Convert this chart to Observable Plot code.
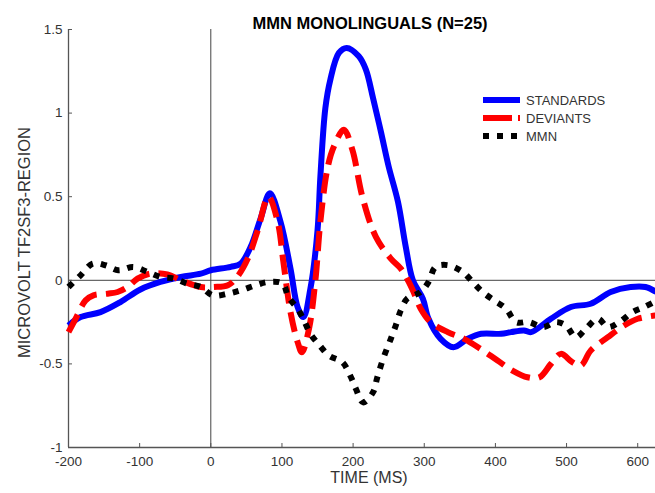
<!DOCTYPE html>
<html>
<head>
<meta charset="utf-8">
<script src="https://cdn.jsdelivr.net/npm/d3@7"></script>
<script src="https://cdn.jsdelivr.net/npm/@observablehq/plot@0.6"></script>
<style>
  html, body { margin: 0; padding: 0; background: white; }
  #wrap { position: relative; width: 655px; height: 493px; }
  #legend { position: absolute; left: 0; top: 0; pointer-events: none; }
</style>
</head>
<body>
<div id="wrap"></div>
<script>
// ---- data ----
const title = "MMN MONOLINGUALS (N=25)";
const xLabel = "TIME (MS)";
const yLabel = "MICROVOLT TF2SF3-REGION";
const seriesNames = ["STANDARDS", "DEVIANTS", "MMN"];
const xTicks = [-200, -100, 0, 100, 200, 300, 400, 500, 600];
const yTicks = [-1, -0.5, 0, 0.5, 1, 1.5];
const xDomain = [-200, 625];
const yDomain = [-1, 1.5];

const stdTime  = [-200,-183,-155,-127,-99,-71,-42,-14,0,28,42,56,70,83,98,112,122,130,140,150,154,161,168,180,191,208,218,228,239,250,263,274,284,298,306,323,341,361,380,408,422,440,450,478,506,534,562,590,611,626];
const stdValue = [-0.27,-0.22,-0.19,-0.13,-0.055,-0.01,0.02,0.04,0.06,0.08,0.1,0.2,0.37,0.52,0.35,0.07,-0.16,-0.22,-0.05,0.3,0.62,1.03,1.2,1.36,1.39,1.34,1.26,1.09,0.89,0.68,0.47,0.2,0.0,-0.11,-0.23,-0.35,-0.40,-0.35,-0.32,-0.32,-0.31,-0.30,-0.31,-0.23,-0.16,-0.14,-0.07,-0.04,-0.04,-0.07];

const devTime  = [-200,-190,-176,-165,-145,-131,-117,-103,-85,-61,-42,-14,4,24,37,52,66,81,94,102,112,122,128,138,147,154,164,173,187,199,213,232,253,267,277,285,295,309,333,356,379,403,424,445,462,478,492,508,520,534,558,581,600,626];
const devValue = [-0.31,-0.23,-0.12,-0.09,-0.08,-0.07,-0.04,0.01,0.04,0.035,0.0,-0.04,-0.04,-0.03,0.02,0.13,0.3,0.5,0.35,0.11,-0.19,-0.37,-0.43,-0.29,0.0,0.35,0.67,0.8,0.9,0.78,0.5,0.26,0.13,0.07,0.0,-0.07,-0.17,-0.25,-0.31,-0.35,-0.41,-0.48,-0.54,-0.58,-0.58,-0.5,-0.44,-0.49,-0.51,-0.42,-0.34,-0.27,-0.23,-0.21];

const mmnTime  = [-200,-183,-166,-148,-130,-109,-89,-71,-52,-33,-14,3,24,42,63,81,101,109,122,131,140,153,166,185,197,204,214,228,234,243,253,260,267,276,295,306,316,334,354,368,382,398,415,429,447,467,485,499,513,527,544,558,574,593,609,623];
const mmnValue = [-0.04,0.03,0.1,0.09,0.06,0.08,0.05,0.02,0.01,-0.02,-0.04,-0.09,-0.08,-0.06,-0.03,-0.01,-0.02,-0.1,-0.17,-0.24,-0.32,-0.39,-0.45,-0.49,-0.58,-0.65,-0.73,-0.67,-0.58,-0.46,-0.35,-0.27,-0.18,-0.11,-0.07,-0.01,0.08,0.09,0.05,-0.01,-0.07,-0.12,-0.17,-0.25,-0.25,-0.28,-0.25,-0.27,-0.34,-0.29,-0.23,-0.28,-0.25,-0.19,-0.16,-0.13];

// ---- build rows ----
const toRows = (ts, vs) => ts.map((t, i) => ({t, v: vs[i]}));
const stdRows = toRows(stdTime, stdValue);
const devRows = toRows(devTime, devValue);
const mmnRows = toRows(mmnTime, mmnValue);

const styles = [
  {stroke: "#0000ff", dash: null},
  {stroke: "#ff0000", dash: "20,9"},
  {stroke: "#000000", dash: "6,8"}
];

const W = 655, H = 493, mT = 29, mB = 46, mL = 68, mR = 0;
const frameW = W - mL - mR, frameH = H - mT - mB;
const font = "'Liberation Sans', Arial, sans-serif";

const chart = Plot.plot({
  width: W, height: H,
  marginTop: mT, marginBottom: mB, marginLeft: mL, marginRight: mR,
  style: {fontFamily: font, fontSize: "13.5px", color: "#333", background: "white", overflow: "visible"},
  x: {domain: xDomain, ticks: xTicks, tickSize: 0, tickPadding: 9, tickFormat: d => String(d), label: null},
  y: {domain: yDomain, ticks: yTicks, tickSize: 0, tickPadding: 6, tickFormat: d => String(d), label: null},
  marks: [
    Plot.ruleX([0], {stroke: "#444", strokeWidth: 1}),
    Plot.ruleY([0], {stroke: "#444", strokeWidth: 1}),
    Plot.ruleX([xDomain[0]], {stroke: "#555", strokeWidth: 1.3}),
    Plot.ruleY([yDomain[0]], {stroke: "#555", strokeWidth: 1.3}),
    Plot.tickY(yTicks, {y: d => d, insetRight: frameW - 4, stroke: "#555"}),
    Plot.tickX(xTicks, {x: d => d, insetTop: frameH - 4, stroke: "#555"}),
    Plot.line(stdRows, {x: "t", y: "v", stroke: styles[0].stroke, strokeWidth: 6, curve: "catmull-rom", strokeLinecap: "butt"}),
    Plot.line(devRows, {x: "t", y: "v", stroke: styles[1].stroke, strokeWidth: 6, curve: "catmull-rom", strokeDasharray: styles[1].dash, strokeLinecap: "butt"}),
    Plot.line(mmnRows, {x: "t", y: "v", stroke: styles[2].stroke, strokeWidth: 6, curve: "catmull-rom", strokeDasharray: styles[2].dash, strokeLinecap: "butt"}),
    Plot.text([title], {frameAnchor: "top", dy: -12, dx: 8, fontWeight: "bold", fontSize: 16.5, fill: "#000"}),
    Plot.text([xLabel], {frameAnchor: "bottom", dy: 35, dx: 7, fontSize: 16, fill: "#333"}),
    Plot.text([yLabel], {frameAnchor: "left", textAnchor: "middle", dx: -44, dy: 4, rotate: -90, fontSize: 16.5, fill: "#333"})
  ]
});

const wrap = document.getElementById("wrap");
wrap.appendChild(chart);

// ---- legend overlay ----
const leg = d3.create("svg").attr("id", "legend").attr("width", W).attr("height", H);
const legX0 = 483, legX1 = 520, legY0 = 100, legStep = 18;
seriesNames.forEach((name, i) => {
  const y = legY0 + i * legStep;
  leg.append("line")
    .attr("x1", legX0).attr("x2", legX1).attr("y1", y).attr("y2", y)
    .attr("stroke", styles[i].stroke).attr("stroke-width", 6)
    .attr("stroke-dasharray", i === 1 ? "29,6" : styles[i].dash)
    .attr("stroke-linecap", "butt");
  leg.append("text")
    .attr("x", legX1 + 6).attr("y", y).attr("dy", "0.35em")
    .attr("font-family", font).attr("font-size", 13).attr("fill", "#333")
    .text(name);
});
wrap.appendChild(leg.node());
</script>
</body>
</html>
